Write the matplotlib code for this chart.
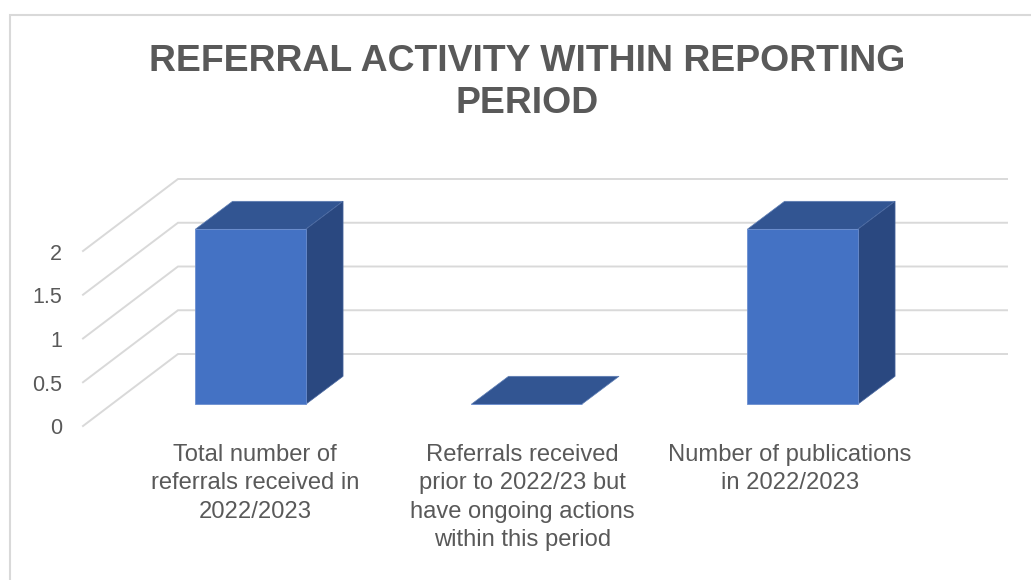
#!/usr/bin/env python3
import matplotlib
matplotlib.use('Agg')
import matplotlib.pyplot as plt
from matplotlib.lines import Line2D
from matplotlib.patches import Polygon

categories = ['Total number of\nreferrals received in\n2022/2023',
              'Referrals received\nprior to 2022/23 but\nhave ongoing actions\nwithin this period',
              'Number of publications\nin 2022/2023']
values = [2, 0, 2]
y_ticks = [0, 0.5, 1, 1.5, 2]
y_tick_labels = ['0', '0.5', '1', '1.5', '2']
title = 'REFERRAL ACTIVITY WITHIN REPORTING\nPERIOD'

W, H = 1031, 580
CAT_PX = 276.0     # pixels per category
VAL_PX = 87.5      # pixels per unit
X0_PX, Y0_PX = 250.5, 404.3   # where category 0 / value 0 sit
TEXT = '#595959'
GRID = '#D9D9D9'
FRONT, TOP, SIDE = '#4472C4', '#325592', '#2A4880'

plt.rcParams['font.family'] = ['Liberation Sans', 'DejaVu Sans']

fig = plt.figure(figsize=(W / 100, H / 100), dpi=100, facecolor='white')
ax = fig.add_axes([0, 0, 1, 1])
ax.set_xlim(-X0_PX / CAT_PX, (W - X0_PX) / CAT_PX)
ax.set_ylim((Y0_PX - H) / VAL_PX, Y0_PX / VAL_PX)
ax.axis('off')

def dx(px): return px / CAT_PX
def dy(px): return px / VAL_PX
def px_x(px): return (px - X0_PX) / CAT_PX
def px_y(py): return (Y0_PX - py) / VAL_PX

# walls: slanted side wall then the back wall
for v in y_ticks:
    ax.plot([px_x(83), px_x(178), px_x(1007)],
            [v + px_y(426), v + px_y(354), v + px_y(354)],
            color=GRID, lw=1.4, zorder=1, solid_joinstyle='miter')

# bars, front face through bar(), depth faces offset from it
BAR_W = 110.5 / CAT_PX
DEPTH_X, DEPTH_Y = dx(37.3), dy(28)
xs = range(len(values))
ax.bar(xs, values, width=BAR_W, color=FRONT, edgecolor='#6C8FD0', linewidth=0.6, zorder=4)
for x, v in zip(xs, values):
    l, r = x - BAR_W / 2, x + BAR_W / 2
    ax.add_patch(Polygon([(l, v), (r, v), (r + DEPTH_X, v + DEPTH_Y), (l + DEPTH_X, v + DEPTH_Y)],
                         facecolor=TOP, edgecolor='#5F7FB5', lw=0.5, zorder=3))
    if v > 0:
        ax.add_patch(Polygon([(r, 0), (r + DEPTH_X, DEPTH_Y), (r + DEPTH_X, v + DEPTH_Y), (r, v)],
                             facecolor=SIDE, edgecolor='#4A68A0', lw=0.5, zorder=3))

for v, lab in zip(y_ticks, y_tick_labels):
    ax.text(px_x(62), v + px_y(429), lab, ha='right', va='center', fontsize=15.5, color=TEXT)

# category labels run a bit tighter than the bars
for i, lab in enumerate(categories):
    ax.text(px_x(255 + 267.5 * i), px_y(444), lab, ha='center', va='top',
            fontsize=17.1, color=TEXT, linespacing=1.37)

fig.text(527 / W, 1 - 44 / H, title, ha='center', va='top', fontsize=26.9,
         fontweight='bold', color=TEXT, linespacing=1.25)

# chart frame, only left and top survive the crop
fig.add_artist(Line2D([10 / W, 10 / W, 1], [0, 1 - 14.5 / H, 1 - 14.5 / H],
                      color=GRID, lw=1.5, solid_joinstyle='miter'))

fig.savefig('out.png', dpi=100)
